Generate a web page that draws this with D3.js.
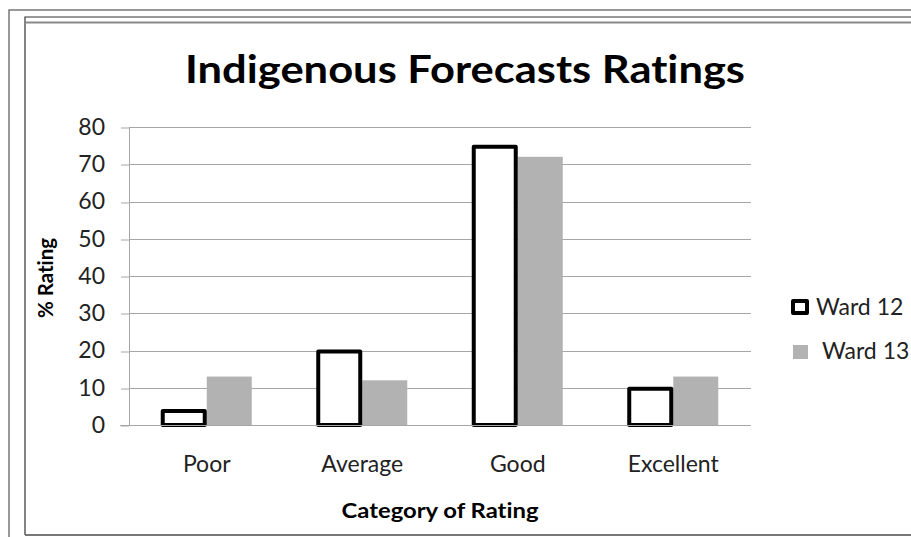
<!DOCTYPE html>
<html>
<head>
<meta charset="utf-8">
<script src="https://cdn.jsdelivr.net/npm/d3@7/dist/d3.min.js"></script>
<style>
  html, body { margin: 0; padding: 0; background: #fff; }
  svg { display: block; }
  text { font-family: Lato, "Open Sans", sans-serif; font-variant-ligatures: none; font-feature-settings: "liga" 0; }
</style>
</head>
<body>
<script>
// Ratings of indigenous forecasts by ward
const categories = ["Poor", "Average", "Good", "Excellent"];
const seriesNames = ["Ward 12", "Ward 13"];
const ward12 = [4, 20, 75, 10];
const ward13 = [13, 12, 72, 13];
const yTicks = [0, 10, 20, 30, 40, 50, 60, 70, 80];

const W = 911, H = 537;
const plot = { left: 129, right: 751, top: 127, bottom: 425 };

const svg = d3.select("body").append("svg")
  .attr("width", W).attr("height", H);

// Frame: outer single line plus inner double-line border
const frame = svg.append("g").attr("fill", "none");
frame.append("path").attr("d", `M9,537 V10 H911`).attr("stroke", "#777").attr("stroke-width", 1.5);
frame.append("path").attr("d", `M25,535 V17 H911`).attr("stroke", "#333").attr("stroke-width", 1.2);
frame.append("line").attr("x1", 25).attr("x2", 911).attr("y1", 22.5).attr("y2", 22.5)
  .attr("stroke", "#888").attr("stroke-width", 2);
frame.append("line").attr("x1", 25).attr("x2", 911).attr("y1", 535).attr("y2", 535)
  .attr("stroke", "#777").attr("stroke-width", 2);

const y = d3.scaleLinear().domain([0, 80]).range([plot.bottom, plot.top]);
const x0 = d3.scaleBand().domain(categories).range([plot.left, plot.right]).padding(0);
const x1 = d3.scaleBand().domain(seriesNames).range([0, x0.bandwidth()])
  .paddingInner(0).paddingOuter(0.69);

// Gridlines and y axis
const yAxis = d3.axisLeft(y).tickValues(yTicks).tickSize(8).tickPadding(16)
  .tickFormat(d3.format("d"));
const gy = svg.append("g").attr("transform", `translate(${plot.left},0)`).call(yAxis);
gy.select(".domain").attr("stroke", "#a6a6a6").attr("d", `M0.5,${plot.top}V${plot.bottom}`);
gy.selectAll(".tick line").attr("stroke", "#a6a6a6");
gy.selectAll(".tick text").attr("font-size", 23).attr("fill", "#222")
  .attr("font-family", "Lato, sans-serif");
svg.append("g").selectAll("line").data(yTicks).join("line")
  .attr("x1", plot.left).attr("x2", plot.right)
  .attr("y1", d => Math.round(y(d)) + 0.5).attr("y2", d => Math.round(y(d)) + 0.5)
  .attr("stroke", "#a6a6a6").attr("stroke-width", 1.2);
gy.selectAll(".tick line").attr("transform", d => `translate(0,${Math.round(y(d)) + 0.5 - y(d)})`);

// Bars
const rows = categories.map((c, i) => ({ cat: c, vals: [ward12[i], ward13[i]] }));
const groups = svg.append("g").selectAll("g").data(rows).join("g")
  .attr("transform", d => `translate(${x0(d.cat)},0)`);

groups.append("rect")
  .attr("x", x1(seriesNames[1]))
  .attr("y", d => y(d.vals[1]))
  .attr("width", x1.bandwidth() - 1)
  .attr("height", d => y(0) - y(d.vals[1]))
  .attr("fill", "#b2b2b2");

groups.append("rect")
  .attr("x", x1(seriesNames[0]) + 2)
  .attr("y", d => y(d.vals[0]) + 1)
  .attr("width", x1.bandwidth() - 4)
  .attr("height", d => y(0) - y(d.vals[0]) - 1)
  .attr("fill", "#fff")
  .attr("stroke", "#000").attr("stroke-width", 4).attr("stroke-linejoin", "round");

// x axis line and category labels
svg.append("line").attr("x1", 120).attr("x2", plot.right)
  .attr("y1", plot.bottom + 0.5).attr("y2", plot.bottom + 0.5)
  .attr("stroke", "#a6a6a6").attr("stroke-width", 1.2);
svg.append("g").selectAll("text").data(categories).join("text")
  .attr("x", d => x0(d) + x0.bandwidth() / 2)
  .attr("y", 472)
  .attr("text-anchor", "middle")
  .attr("font-size", 23).attr("fill", "#222")
  .text(d => d);

// Titles
svg.append("text").attr("x", 465).attr("y", 83).attr("text-anchor", "middle")
  .attr("font-size", 39).attr("font-weight", "bold").attr("fill", "#000")
  .attr("textLength", 560).attr("lengthAdjust", "spacingAndGlyphs")
  .text("Indigenous Forecasts Ratings");
svg.append("text").attr("x", 440).attr("y", 518).attr("text-anchor", "middle")
  .attr("font-size", 21).attr("font-weight", "bold").attr("fill", "#000")
  .attr("textLength", 197).attr("lengthAdjust", "spacingAndGlyphs")
  .text("Category of Rating");
svg.append("text").attr("transform", `translate(53,278) rotate(-90)`)
  .attr("text-anchor", "middle")
  .attr("font-size", 21).attr("font-weight", "bold").attr("fill", "#000")
  .attr("textLength", 80).attr("lengthAdjust", "spacingAndGlyphs")
  .text("% Rating");

// Legend
const legend = svg.append("g");
legend.append("rect").attr("x", 793).attr("y", 301).attr("width", 14).attr("height", 12)
  .attr("fill", "#fff").attr("stroke", "#000").attr("stroke-width", 4).attr("stroke-linejoin", "round");
legend.append("text").attr("x", 816).attr("y", 315).attr("font-size", 23).attr("fill", "#222")
  .text(seriesNames[0]);
legend.append("rect").attr("x", 793).attr("y", 345).attr("width", 15).attr("height", 14)
  .attr("fill", "#b2b2b2");
legend.append("text").attr("x", 822).attr("y", 359).attr("font-size", 23).attr("fill", "#222")
  .text(seriesNames[1]);
</script>
</body>
</html>
